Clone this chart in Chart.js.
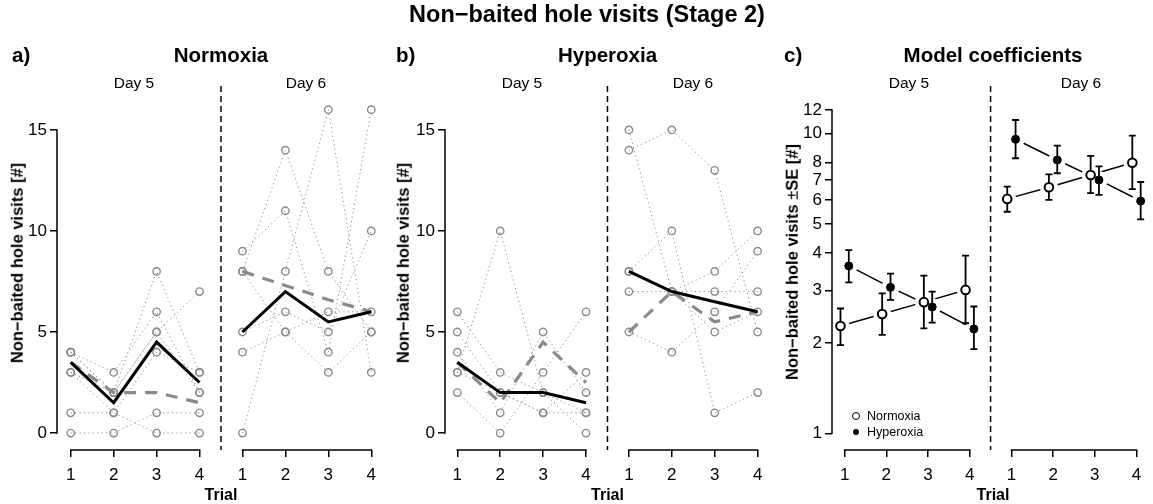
<!DOCTYPE html>
<html><head><meta charset="utf-8">
<script src="https://cdn.jsdelivr.net/npm/chart.js@4.4.1/dist/chart.umd.min.js"></script>
<style>
html,body{margin:0;padding:0;background:#fff;}
#wrap{position:relative;width:1153px;height:504px;overflow:hidden;font-family:"Liberation Sans",Arial,Helvetica,sans-serif;color:#000;}
canvas{position:absolute;left:0;top:0;}
.t{position:absolute;white-space:nowrap;transform:translate(-50%,-50%);line-height:1;}
.l{position:absolute;white-space:nowrap;transform:translate(0,-50%);line-height:1;}
.b{font-weight:bold;}
.rot{transform:translate(-50%,-50%) rotate(-90deg);}
.n{font-weight:normal;}
.mk{position:absolute;border-radius:50%;box-sizing:border-box;transform:translate(-50%,-50%);}
</style></head><body><div id="wrap">
<canvas id="ca" width="1153" height="504"></canvas>
<canvas id="cb" width="1153" height="504"></canvas>
<canvas id="cc" width="1153" height="504"></canvas>

<div class="t b" style="left:587px;top:15px;font-size:23.5px">Non−baited hole visits (Stage 2)</div>
<div class="l b" style="left:12px;top:55px;font-size:20.5px">a)</div>
<div class="t b" style="left:221px;top:55px;font-size:20.5px">Normoxia</div>
<div class="l b" style="left:396px;top:55px;font-size:20.5px">b)</div>
<div class="t b" style="left:607.5px;top:55px;font-size:20.5px">Hyperoxia</div>
<div class="l b" style="left:784px;top:55px;font-size:20.5px">c)</div>
<div class="t b" style="left:993px;top:55px;font-size:20.5px">Model coefficients</div>

<div class="t" style="left:134px;top:83px;font-size:15.5px">Day 5</div>
<div class="t" style="left:306px;top:83px;font-size:15.5px">Day 6</div>
<div class="t" style="left:522px;top:83px;font-size:15.5px">Day 5</div>
<div class="t" style="left:693px;top:83px;font-size:15.5px">Day 6</div>
<div class="t" style="left:909px;top:83px;font-size:15.5px">Day 5</div>
<div class="t" style="left:1081px;top:83px;font-size:15.5px">Day 6</div>

<div class="t b rot" style="left:16.5px;top:263px;font-size:16.5px">Non−baited hole visits [#]</div>
<div class="t b rot" style="left:402.5px;top:263px;font-size:16.5px">Non−baited hole visits [#]</div>
<div class="t b rot" style="left:791.5px;top:262px;font-size:16.5px">Non−baited hole visits <span class="n">±</span>SE [#]</div>

<div class="t b" style="left:221px;top:495px;font-size:16px">Trial</div>
<div class="t b" style="left:607.5px;top:495px;font-size:16px">Trial</div>
<div class="t b" style="left:993px;top:495px;font-size:16px">Trial</div>

<div class="mk" style="left:856px;top:416px;width:8px;height:8px;border:1.6px solid #000;background:#fff"></div>
<div class="l" style="left:867px;top:416px;font-size:12.5px">Normoxia</div>
<div class="mk" style="left:856px;top:432px;width:6px;height:6px;background:#000"></div>
<div class="l" style="left:867px;top:432px;font-size:12.5px">Hyperoxia</div>
</div>
<script>
// ---------------- data ----------------
const TRIALS = [1, 2, 3, 4];
const DAY6_SHIFT = 4;                 // day 6 trials sit after day 5 on a shared axis
const X_TICK_POS = [1, 2, 3, 4, 5, 6, 7, 8];
const X_TICK_LABELS = ['1', '2', '3', '4', '1', '2', '3', '4'];
const Y_TICKS_COUNT = [0, 5, 10, 15];
const Y_TICKS_LOG = [1, 2, 3, 4, 5, 6, 7, 8, 10, 12];

// a) Normoxia – individual animals
const normDay5Subjects = [[4,2,8,3],[4,3,6,2],[3,2,5,7],[3,1,4,3],[1,1,0,0],[0,0,1,1],[4,2,5,2]];
const normDay6Subjects = [[9,11,4,16],[8,14,8,5],[0,8,16,3],[5,6,5,10],[4,5,6,6],[8,5,3,5]];
const normDay5Solid  = [3.5, 1.5, 4.5, 2.5];
const normDay5Dashed = [3.5, 2, 2, 1.5];
const normDay6Solid  = [5, 7, 5.5, 6];
const normDay6Dashed = [8, 7.3, 6.6, 6];

// b) Hyperoxia – individual animals
const hypDay5Subjects = [[6,3,2,1],[5,2,1,1],[3,10,2,0],[4,1,5,2],[2,0,3,6],[3,2,1,3]];
const hypDay6Subjects = [[14,15,13,5],[15,7,8,10],[8,10,1,2],[7,7,7,7],[5,4,6,9],[8,7,5,6]];
const hypDay5Solid  = [3.5, 2, 2, 1.5];
const hypDay5Dashed = [3.5, 1.5, 4.5, 2.5];
const hypDay6Solid  = [8, 7, 6.5, 6];
const hypDay6Dashed = [5, 7, 5.5, 6];

// c) Model coefficients (estimate, lower SE, upper SE)
const coefNormDay5 = [2.28, 2.50, 2.74, 3.01];
const coefNormDay5Lo = [1.97, 2.13, 2.24, 2.33];
const coefNormDay5Hi = [2.61, 2.93, 3.36, 3.92];
const coefHypDay5 = [3.62, 3.07, 2.64, 2.23];
const coefHypDay5Lo = [3.19, 2.79, 2.34, 1.91];
const coefHypDay5Hi = [4.09, 3.41, 2.97, 2.65];
const coefNormDay6 = [6.06, 6.63, 7.28, 8.00];
const coefNormDay6Lo = [5.49, 6.01, 6.33, 6.53];
const coefNormDay6Hi = [6.66, 7.32, 8.43, 9.85];
const coefHypDay6 = [9.58, 8.17, 7.01, 5.96];
const coefHypDay6Lo = [8.28, 7.38, 6.25, 5.18];
const coefHypDay6Hi = [11.11, 9.12, 7.78, 6.90];

// ---------------- helpers ----------------
const FONT = '"Liberation Sans", Arial, Helvetica, sans-serif';
Chart.defaults.font.family = FONT;
const GREY = '#8a8a8a';
const Y_AXIS_W = 50, X_AXIS_H = 40, PLOT_BOTTOM = 450, PLOT_TOP = 97, W = 1153, H = 504;

const pts = (vals, shift, off) => TRIALS.map((t, i) => ({ x: t + shift + (off || 0), y: vals[i] }));

const framePlugin = {
  id: 'frame',
  afterDatasetDraw(chart, args, opts) {
    const ds = chart.data.datasets[args.index];
    if (!ds.isMask || !opts.errbars) return;
    const ctx = chart.ctx, xs = chart.scales.x, ys = chart.scales.y;
    ctx.save();
    ctx.strokeStyle = '#000'; ctx.lineWidth = 1.8; ctx.lineCap = 'butt';
    opts.errbars.forEach(e => {
      const px = xs.getPixelForValue(e.x), y1 = ys.getPixelForValue(e.lo), y2 = ys.getPixelForValue(e.hi);
      ctx.beginPath();
      ctx.moveTo(px, y1); ctx.lineTo(px, y2);
      ctx.moveTo(px - 3.5, y1); ctx.lineTo(px + 3.5, y1);
      ctx.moveTo(px - 3.5, y2); ctx.lineTo(px + 3.5, y2);
      ctx.stroke();
    });
    ctx.restore();
  },
  afterDraw(chart, args, opts) {
    const ctx = chart.ctx, xs = chart.scales.x, ys = chart.scales.y, ca = chart.chartArea;
    ctx.save();
    ctx.strokeStyle = '#000'; ctx.lineWidth = 1.5;
    // x axis segments (one per day)
    ctx.beginPath();
    opts.xSegments.forEach(seg => {
      ctx.moveTo(xs.getPixelForValue(seg[0]) - 0.75, ca.bottom);
      ctx.lineTo(xs.getPixelForValue(seg[1]) + 0.75, ca.bottom);
    });
    // y axis segment
    ctx.moveTo(ca.left, ys.getPixelForValue(opts.yRange[0]) + 0.75);
    ctx.lineTo(ca.left, ys.getPixelForValue(opts.yRange[1]) - 0.75);
    ctx.stroke();
    // day divider
    ctx.setLineDash([6, 4]);
    ctx.beginPath();
    const dx = xs.getPixelForValue(opts.divider);
    ctx.moveTo(dx, opts.dividerTop); ctx.lineTo(dx, ca.bottom);
    ctx.stroke();
    ctx.restore();
  }
};

function makeOptions(p) {
  return {
    responsive: false, animation: false, devicePixelRatio: 1,
    layout: { padding: { left: p.left - Y_AXIS_W, right: W - p.right, top: PLOT_TOP, bottom: H - PLOT_BOTTOM - X_AXIS_H } },
    plugins: {
      legend: { display: false }, tooltip: { enabled: false },
      frame: { xSegments: [[1, 4], [5, 8]], yRange: p.yRange, divider: 4.5, dividerTop: 86, errbars: p.errbars }
    },
    scales: {
      x: {
        type: 'linear', min: p.xmin, max: p.xmax, bounds: 'data',
        afterBuildTicks(s) { s.ticks = X_TICK_POS.map(v => ({ value: v })); },
        afterFit(s) { s.height = X_AXIS_H; s.paddingLeft = 0; s.paddingRight = 0; },
        border: { display: false },
        grid: { drawOnChartArea: false, drawTicks: true, tickLength: 7, color: '#000', lineWidth: 1.5 },
        ticks: { autoSkip: false, maxRotation: 0, padding: 8, color: '#000', font: { size: 17, family: FONT },
                 callback: (v, i) => X_TICK_LABELS[i] }
      },
      y: {
        type: p.log ? 'logarithmic' : 'linear', min: p.ymin, max: p.ymax, bounds: 'data',
        afterBuildTicks(s) { s.ticks = p.yTicks.map(v => ({ value: v })); },
        afterFit(s) { s.width = Y_AXIS_W; s.paddingTop = 0; s.paddingBottom = 0; },
        border: { display: false },
        grid: { drawOnChartArea: false, drawTicks: true, tickLength: 7, color: '#000', lineWidth: 1.5 },
        ticks: { autoSkip: false, padding: 3, color: '#000', font: { size: 17, family: FONT },
                 callback: v => String(v) }
      }
    }
  };
}

function subjectSet(vals, shift) {
  return { data: pts(vals, shift), showLine: true, borderColor: GREY, borderWidth: 1, borderDash: [1.2, 3.2],
           pointRadius: 3.7, pointBorderColor: GREY, pointBackgroundColor: 'rgba(0,0,0,0)', pointBorderWidth: 1.4,
           order: 3, clip: false };
}
function summarySet(vals, shift, dashed) {
  return dashed
    ? { data: pts(vals, shift), showLine: true, borderColor: GREY, borderWidth: 3.2, borderDash: [12, 9],
        pointRadius: 0, order: 2, clip: false }
    : { data: pts(vals, shift), showLine: true, borderColor: '#000', borderWidth: 3, pointRadius: 0, order: 1, clip: false };
}

function rawPanel(id, p, d5s, d6s, s5, s5d, s6, s6d) {
  const datasets = [];
  d5s.forEach(v => datasets.push(subjectSet(v, 0)));
  d6s.forEach(v => datasets.push(subjectSet(v, DAY6_SHIFT)));
  datasets.push(summarySet(s5d, 0, true), summarySet(s6d, DAY6_SHIFT, true));
  datasets.push(summarySet(s5, 0, false), summarySet(s6, DAY6_SHIFT, false));
  new Chart(document.getElementById(id), { type: 'scatter', data: { datasets }, options: makeOptions(p), plugins: [framePlugin] });
}

// y mapping for count panels: 0 at 433px, 15 at 130px
const countY = { ymin: -0.84, ymax: 16.63, yTicks: Y_TICKS_COUNT, yRange: [0, 15] };
rawPanel('ca', Object.assign({ left: 57, right: 385, xmin: 0.68, xmax: 8.32 }, countY),
  normDay5Subjects, normDay6Subjects, normDay5Solid, normDay5Dashed, normDay6Solid, normDay6Dashed);
rawPanel('cb', Object.assign({ left: 445, right: 770, xmin: 0.713, xmax: 8.289 }, countY),
  hypDay5Subjects, hypDay6Subjects, hypDay5Solid, hypDay5Dashed, hypDay6Solid, hypDay6Dashed);

// panel c
const OFF = 0.1;
const normPts = pts(coefNormDay5, 0, -OFF).concat(pts(coefNormDay6, DAY6_SHIFT, -OFF));
const hypPts = pts(coefHypDay5, 0, OFF).concat(pts(coefHypDay6, DAY6_SHIFT, OFF));
const gap = { x: 4.5, y: null };
const errbars = [];
[[coefNormDay5Lo, coefNormDay5Hi, 0, -OFF], [coefNormDay6Lo, coefNormDay6Hi, DAY6_SHIFT, -OFF],
 [coefHypDay5Lo, coefHypDay5Hi, 0, OFF], [coefHypDay6Lo, coefHypDay6Hi, DAY6_SHIFT, OFF]].forEach(([lo, hi, sh, off]) => {
  TRIALS.forEach((t, i) => errbars.push({ x: t + sh + off, lo: lo[i], hi: hi[i] }));
});
const cDatasets = [
  { data: pts(coefNormDay5, 0, -OFF).concat([gap], pts(coefNormDay6, DAY6_SHIFT, -OFF)), showLine: true, spanGaps: false,
    borderColor: '#000', borderWidth: 1.5, pointRadius: 0, order: 4, clip: false },
  { data: pts(coefHypDay5, 0, OFF).concat([gap], pts(coefHypDay6, DAY6_SHIFT, OFF)), showLine: true, spanGaps: false,
    borderColor: '#000', borderWidth: 1.5, pointRadius: 0, order: 4, clip: false },
  { isMask: true, data: normPts.concat(hypPts), showLine: false, pointRadius: 9, pointBorderWidth: 0,
    pointBackgroundColor: '#fff', pointBorderColor: '#fff', order: 3, clip: false },
  { data: normPts, showLine: false, pointRadius: 4.3, pointBorderWidth: 2, pointBorderColor: '#000',
    pointBackgroundColor: '#fff', order: 1, clip: false },
  { data: hypPts, showLine: false, pointRadius: 4, pointBorderWidth: 1, pointBorderColor: '#000',
    pointBackgroundColor: '#000', order: 0, clip: false }
];
new Chart(document.getElementById('cc'), { type: 'scatter', data: { datasets: cDatasets },
  options: makeOptions({ left: 832, right: 1153, xmin: 0.697, xmax: 8.18, log: true, ymin: 0.8795, ymax: 13.26,
                         yTicks: Y_TICKS_LOG, yRange: [1, 12], errbars }),
  plugins: [framePlugin] });
</script>
</body></html>
